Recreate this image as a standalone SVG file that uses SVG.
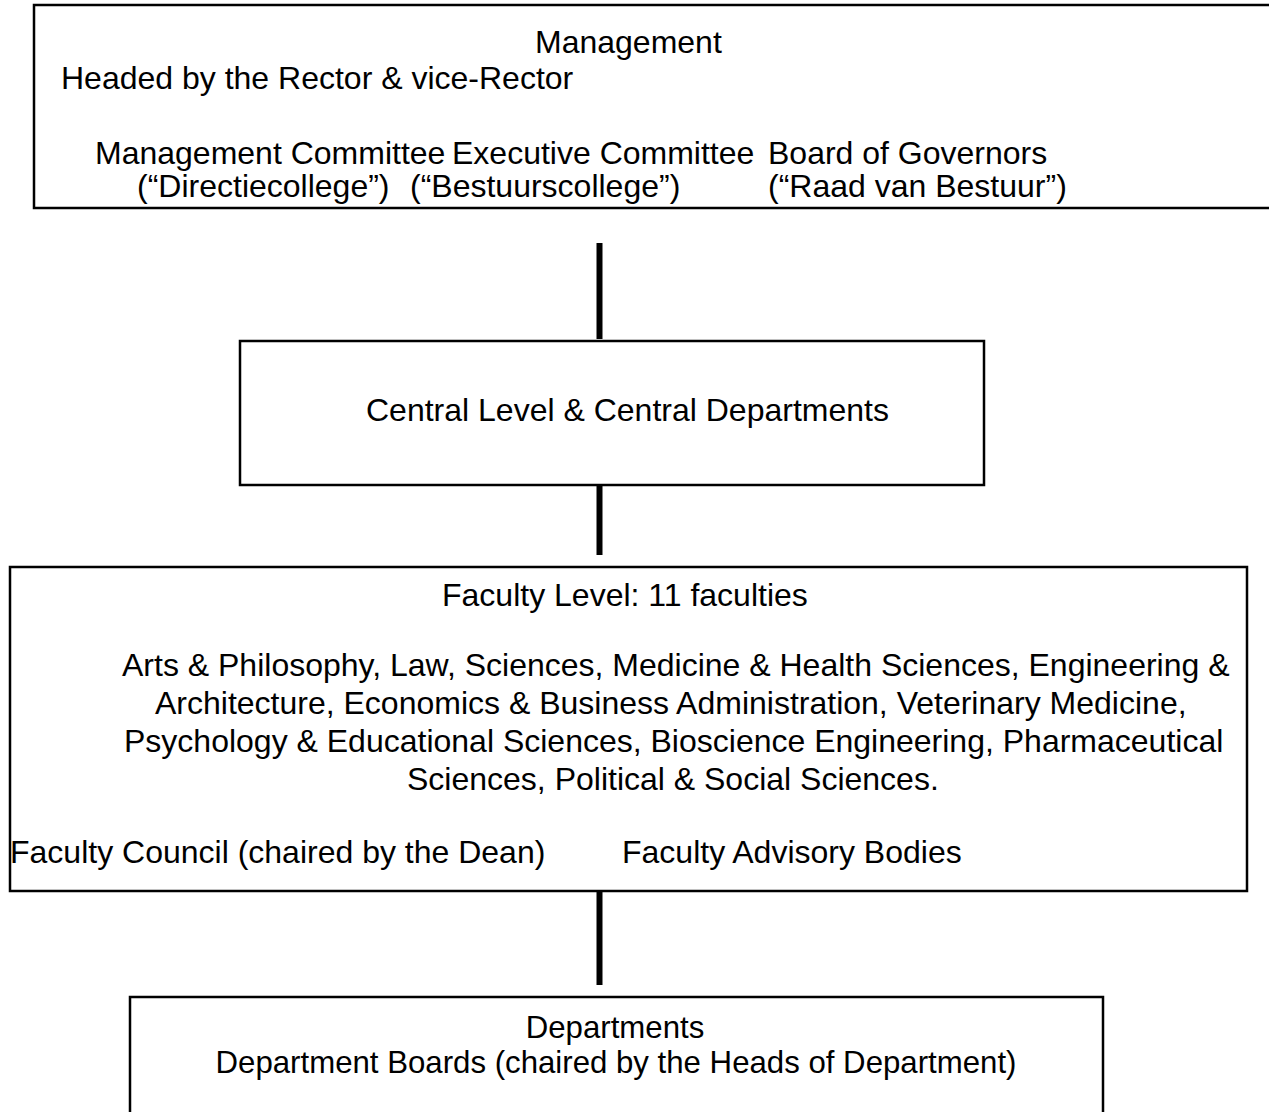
<svg xmlns="http://www.w3.org/2000/svg" width="1269" height="1112" viewBox="0 0 1269 1112">
<style>
.box{fill:#fff;stroke:#000;stroke-width:2.5}
.t{font-family:"Liberation Sans",Arial,sans-serif;font-size:32px;fill:#000}
.d{font-size:31.2px;text-anchor:middle}
.c{stroke:#000;stroke-width:6;fill:none}
</style>
<rect width="1269" height="1112" fill="#fff"/>
<g id="management">
<path class="box" d="M1272,5 H34 V208 H1272"/>
<text class="t" x="535" y="53">Management</text>
<text class="t" x="61" y="89">Headed by the Rector &amp; vice-Rector</text>
<text class="t" x="95" y="164">Management Committee</text>
<text class="t" x="452" y="164">Executive Committee</text>
<text class="t" x="768" y="164">Board of Governors</text>
<text class="t" x="137" y="197">(“Directiecollege”)</text>
<text class="t" x="410" y="197">(“Bestuurscollege”)</text>
<text class="t" x="768" y="197">(“Raad van Bestuur”)</text>
</g>
<g id="central">
<rect class="box" x="240" y="341" width="744" height="144"/>
<text class="t" x="366" y="421">Central Level &amp; Central Departments</text>
</g>
<g id="faculty">
<rect class="box" x="10" y="567" width="1237" height="324"/>
<text class="t" x="442" y="606">Faculty Level: 11 faculties</text>
<text class="t" x="122" y="676">Arts &amp; Philosophy, Law, Sciences, Medicine &amp; Health Sciences, Engineering &amp;</text>
<text class="t" x="155" y="714">Architecture, Economics &amp; Business Administration, Veterinary Medicine,</text>
<text class="t" x="124" y="752">Psychology &amp; Educational Sciences, Bioscience Engineering, Pharmaceutical</text>
<text class="t" x="407" y="790">Sciences, Political &amp; Social Sciences.</text>
<text class="t" x="10" y="863">Faculty Council (chaired by the Dean)</text>
<text class="t" x="622" y="863">Faculty Advisory Bodies</text>
</g>
<g id="departments">
<rect class="box" x="130" y="997" width="973" height="130"/>
<text class="t d" x="615" y="1038">Departments</text>
<text class="t d" x="616" y="1073">Department Boards (chaired by the Heads of Department)</text>
</g>
<g id="connectors">
<line class="c" x1="599.5" y1="243" x2="599.5" y2="339"/>
<line class="c" x1="599.5" y1="486" x2="599.5" y2="555"/>
<line class="c" x1="599.5" y1="892" x2="599.5" y2="985"/>
</g>
</svg>
